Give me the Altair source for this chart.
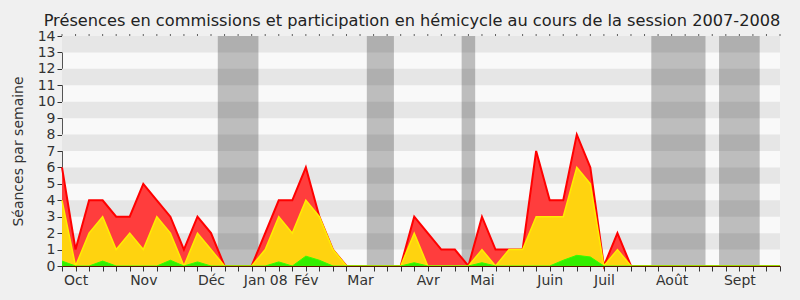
import altair as alt
import pandas as pd

# --- données ---
semaines = list(range(54))
rouge = [6, 1, 4, 4, 3, 3, 5, 4, 3, 1, 3, 2, 0, 0, 0, 2, 4, 4, 6, 3, 1, 0, 0, 0, 0, 0,
         3, 2, 1, 1, 0, 3, 1, 1, 1, 7, 4, 4, 8, 6, 0, 2, 0, 0, 0, 0, 0, 0, 0, 0, 0, 0, 0, 0]
jaune = [4, 0, 2, 3, 1, 2, 1, 3, 2, 0, 2, 1, 0, 0, 0, 1, 3, 2, 4, 3, 1, 0, 0, 0, 0, 0,
         2, 0, 0, 0, 0, 1, 0, 1, 1, 3, 3, 3, 6, 5, 0, 1, 0, 0, 0, 0, 0, 0, 0, 0, 0, 0, 0, 0]
vert = [0.3, 0, 0, 0.3, 0, 0, 0, 0, 0.35, 0, 0.25, 0, 0, 0, 0, 0, 0.25, 0, 0.6, 0.35, 0, 0, 0, 0, 0, 0,
        0.2, 0, 0, 0, 0, 0.2, 0, 0, 0, 0, 0, 0.35, 0.65, 0.55, 0, 0, 0, 0, 0, 0, 0, 0, 0, 0, 0, 0, 0, 0]

mois_pos = [1, 6, 11, 15, 18, 22, 27, 31, 36, 40, 45, 50]
mois_lib = ["Oct", "Nov", "Déc", "Jan 08", "Fév", "Mar", "Avr", "Mai", "Juin", "Juil", "Août", "Sept"]

vac_debut = [12, 23, 30, 44, 49]
vac_fin = [14, 24, 30, 47, 51]

bandes = [1, 3, 5, 7, 9, 11, 13]
y_ticks = list(range(15))
y_max = 14

titre = "Présences en commissions et participation en hémicycle au cours de la session 2007-2008"
titre_y = "Séances par semaine"

# --- tables ---
df = pd.DataFrame({"semaine": semaines, "rouge": rouge, "jaune": jaune, "vert": vert})
df_vac = pd.DataFrame({"d": [d - 0.5 for d in vac_debut], "f": [f + 0.5 for f in vac_fin]})
df_bandes = pd.DataFrame({"y0": bandes, "y1": [b + 1 for b in bandes]})

etiquettes = [""] * len(semaines)
for p, l in zip(mois_pos, mois_lib):
    etiquettes[p] = l
label_expr = "[" + ",".join("'" + s + "'" for s in etiquettes) + "][datum.value]"

FONT = "DejaVu Sans"
xscale = alt.Scale(domain=[0, 53], nice=False, zero=False, padding=0)
yscale = alt.Scale(domain=[0, y_max], nice=False)

x_axis = alt.Axis(values=semaines, labelExpr=label_expr, labelOverlap=False,
                  labelFlush=False, tickSize=5, labelPadding=2, labelFontSize=14,
                  domainColor="#5a1800", tickColor="#333", zindex=1, title=None)
y_axis = alt.Axis(values=y_ticks, tickSize=5, labelFontSize=14, labelPadding=2,
                  title=titre_y, titleFontSize=14, titleFontWeight="normal",
                  titlePadding=12, domainColor="#555", tickColor="#333")


def X(field):
    return alt.X(field, type="quantitative", scale=xscale, axis=x_axis, title=None)


def Y(field):
    return alt.Y(field, type="quantitative", scale=yscale, axis=y_axis, title=titre_y)


stripes = alt.Chart(df_bandes).mark_rect(color="#e6e6e6").encode(
    y=Y("y0"),
    y2="y1:Q",
)

vac = alt.Chart(df_vac).mark_rect(color="#000000", opacity=0.24).encode(
    x=X("d"),
    x2="f:Q",
)

base = alt.Chart(df)

top_ticks = base.mark_tick(orient="vertical", size=2, thickness=1, color="#222",
                           yOffset=-1, clip=False).encode(
    x=X("semaine"),
    y=alt.datum(y_max, scale=yscale, axis=y_axis, title=titre_y),
)

red = base.mark_area(color="#ff3d3d", opacity=1,
                     line={"color": "#ff0000", "strokeWidth": 2}).encode(
    x=X("semaine"), y=Y("rouge"))
yellow = base.mark_area(color="#ffd30f", opacity=1,
                        line={"color": "#ffee00", "strokeWidth": 1.5}).encode(
    x=X("semaine"), y=Y("jaune"))
green = base.mark_area(color="#33ee00", opacity=1,
                       line={"color": "#33ff00", "strokeWidth": 1}).encode(
    x=X("semaine"), y=Y("vert"))

chart = alt.layer(stripes, vac, top_ticks, red, yellow, green).properties(
    width=718, height=230,
    autosize=alt.AutoSizeParams(type="none"),
    padding={"left": 62, "top": 36, "right": 20, "bottom": 34},
    background="#f0f0f0",
    title=alt.TitleParams(titre, fontSize=16.2, font=FONT, fontWeight="normal", color="#222",
                          anchor="middle", offset=0, dx=-9),
).configure_view(stroke=None, fill="#f9f9f9").configure_axis(
    labelFont=FONT, titleFont=FONT, labelColor="#333", titleColor="#333", grid=False
)

chart.save("out.html", embed_options={"renderer": "svg", "actions": False})
